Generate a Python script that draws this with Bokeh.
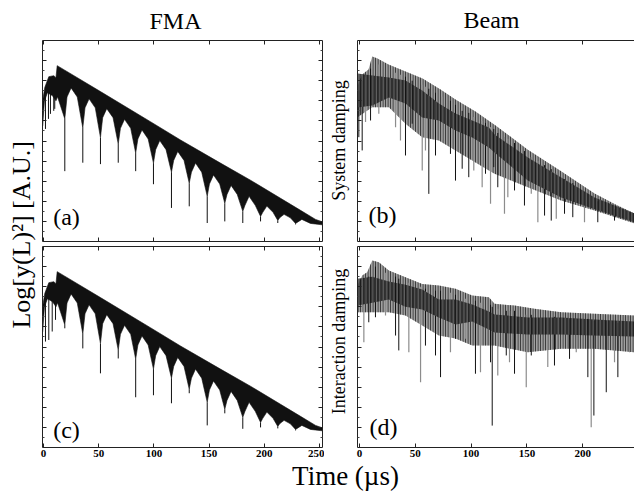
import math
from bokeh.plotting import figure
from bokeh.models import Range1d, Label, FixedTicker, LinearAxis, GridBox
from bokeh.embed import file_html
from bokeh.resources import INLINE

# ---------------- data ----------------
# FMA panels: upper envelope of the envelope-band (log units, A.U.)
fma_top_t = [-0.8, 1.2, 4.8, 9.3, 11.3, 12.4, 51.6, 96.9, 124.1, 160.3, 187.5, 214.7, 232.8, 246.4, 252.5]
fma_top_y = [7.0, 7.67, 8.2, 8.25, 8.15, 8.75, 7.46, 5.96, 5.05, 3.9, 3.05, 2.15, 1.55, 1.1, 0.98]
# lower (scalloped) boundary of the band
fma_low_t = [-0.8, 0.9, 3.6, 8.2, 11.3, 12.7, 15.4,
             19.3, 21.3, 25.0, 30.6, 35.6, 37.6, 41.3, 46.9,
             51.6, 53.6, 57.3, 63.0, 67.7, 69.7, 73.4, 79.0,
             83.5, 85.5, 89.2, 94.8, 99.6, 101.6, 105.3, 111.0,
             115.9, 117.9, 121.6, 127.3, 132.0, 134.0, 137.7, 143.3,
             148.3, 150.3, 154.0, 159.6, 164.2, 166.2, 169.9, 175.5,
             180.5, 182.5, 186.2, 191.8, 196.6, 198.6, 202.3, 207.9,
             212.2, 214.2, 217.9, 223.6, 228.3, 234.0, 241.8, 252.5]
fma_low_y = [5.75, 7.0, 7.4, 7.25, 7.0, 7.2, 6.75,
             6.1, 7.19, 7.64, 7.19, 5.65, 6.65, 7.1, 6.65,
             5.17, 6.16, 6.61, 6.16, 4.85, 5.63, 6.08, 5.63,
             4.4, 5.1, 5.55, 5.1, 3.9, 4.57, 5.02, 4.57,
             3.45, 4.03, 4.48, 4.03, 2.9, 3.45, 3.9, 3.45,
             2.25, 2.86, 3.31, 2.86, 1.9, 2.34, 2.79, 2.34,
             1.5, 1.8, 2.25, 1.8, 1.25, 1.45, 1.76, 1.45,
             1.05, 1.2, 1.35, 1.18, 0.9, 1.1, 0.9, 0.83]
# dips (thin spikes) of panel (a) and (c)
fma_a_spk_t = [1.8, 4.5, 6.3, 9.3, 10.2, 19.3, 35.6, 51.6, 67.7, 83.5, 99.6, 115.9, 132.0, 148.3, 164.2, 180.5, 196.6, 212.2, 228.3]
fma_a_spk_lo = [5.6, 6.1, 6.35, 6.5, 6.6, 3.5, 3.92, 3.85, 3.92, 3.5, 2.85, 1.67, 1.75, 0.92, 1.0, 0.92, 1.0, 0.92, 0.85]
fma_a_spk_hi = [7.4, 7.8, 8.0, 8.0, 8.0, 6.1, 5.65, 5.17, 4.85, 4.4, 3.9, 3.45, 2.9, 2.25, 1.9, 1.5, 1.25, 1.05, 0.9]
fma_c_spk_t = [1.8, 4.8, 7.9, 10.9, 19.3, 35.6, 51.6, 67.7, 83.5, 99.6, 115.9, 132.0, 148.3, 164.2, 180.5, 196.6, 212.2, 228.3]
fma_c_spk_lo = [5.27, 5.35, 5.77, 6.35, 5.93, 4.93, 3.69, 4.43, 2.5, 2.6, 2.2, 2.7, 1.1, 1.7, 0.93, 1.0, 0.95, 0.85]
fma_c_spk_hi = [7.4, 7.9, 8.0, 8.0, 6.1, 5.65, 5.17, 4.85, 4.4, 3.9, 3.45, 2.9, 2.25, 1.9, 1.5, 1.25, 1.05, 0.9]

# Beam, system damping (b)
b_up_t = [-1.8, 2.4, 8.1, 11.4, 16.1, 26.0, 41.2, 56.5, 72.6, 86.0, 103.9, 121.9, 150.5, 181.0, 210.6, 229.4, 246.4]
b_up_y = [7.71, 8.31, 8.56, 9.2, 9.1, 8.81, 8.46, 8.11, 7.56, 7.06, 6.47, 5.77, 4.58, 3.48, 2.39, 1.84, 1.39]
b_lo_t = [-1.8, 11.4, 26.3, 41.2, 56.2, 71.1, 86.0, 101.0, 115.9, 121.0, 150.8, 180.7, 210.6, 246.4]
b_lo_y = [6.18, 6.68, 6.68, 5.86, 5.19, 5.02, 4.53, 4.03, 3.53, 3.37, 2.70, 2.04, 1.54, 0.9]
b_core_hi = [8.36, 8.26, 8.16, 8.01, 7.51, 6.87, 6.37, 6.02, 5.67, 5.32, 4.18, 3.18, 2.19, 1.39]
b_core_lo = [6.67, 6.77, 7.16, 6.87, 6.17, 6.02, 5.52, 5.17, 4.68, 4.43, 3.03, 2.19, 1.6, 0.95]
b_k_t = [-0.6, 2.4, 9.9, 41.2, 47.2, 62.1, 68.1, 81.5, 86.0, 92.0, 97.9, 112.9, 120.3, 123.9, 138.9, 147.8, 165.8, 171.8, 183.7, 191.1, 213.5, 228.5]
b_k_lo = [5.19, 4.53, 6.02, 4.28, 5.86, 2.37, 4.28, 4.36, 3.03, 3.62, 3.2, 3.37, 3.7, 2.7, 2.54, 1.79, 1.29, 1.04, 1.38, 1.21, 0.96, 1.04]
b_k_hi = [7.5, 8.0, 8.6, 8.2, 8.0, 7.6, 7.4, 7.0, 6.8, 6.5, 6.4, 5.9, 5.6, 5.4, 4.9, 4.5, 3.8, 3.6, 3.1, 2.9, 2.0, 1.6]
b_g_t = [5.4, 17.3, 32.3, 36.7, 56.2, 59.1, 74.1, 102.4, 109.9, 117.4, 129.9, 132.9, 153.9, 159.8, 176.3, 201.6, 240.4]
b_g_lo = [5.94, 6.35, 5.69, 5.02, 3.53, 4.53, 5.02, 3.53, 2.7, 1.88, 1.38, 2.2, 2.37, 0.96, 1.13, 0.96, 1.04]
b_g_hi = [8.2, 8.8, 8.4, 8.3, 7.8, 7.7, 7.2, 6.2, 6.0, 5.7, 5.2, 5.1, 4.2, 4.0, 3.4, 2.5, 1.3]

# Beam, interaction damping (d)
d_up_t = [-1.8, 2.4, 6.9, 11.4, 17.3, 26.3, 41.2, 56.2, 71.1, 86.0, 101.0, 115.9, 121.0, 138.9, 156.8, 180.7, 210.6, 246.4]
d_up_y = [8.06, 8.56, 8.72, 9.3, 9.22, 8.81, 8.47, 8.14, 8.06, 7.9, 7.56, 7.48, 7.15, 7.06, 6.9, 6.73, 6.65, 6.57]
d_lo_t = [-1.8, 11.4, 26.3, 41.2, 56.2, 71.1, 86.0, 101.0, 115.9, 121.0, 150.8, 180.7, 210.6, 246.4]
d_lo_y = [6.73, 6.73, 6.73, 6.57, 6.07, 5.57, 5.42, 5.07, 5.07, 5.07, 4.74, 4.91, 4.91, 4.74]
d_core_hi = [8.4, 8.5, 8.26, 8.1, 7.86, 7.36, 7.36, 7.11, 6.77, 6.62, 6.47, 6.47, 6.37, 6.27]
d_core_lo = [7.06, 7.2, 7.36, 7.0, 6.87, 6.47, 6.12, 6.27, 5.87, 5.72, 5.62, 5.62, 5.57, 5.52]
d_k_t = [8.3, 14.3, 32.3, 35.2, 59.1, 68.1, 72.6, 86.0, 103.9, 117.4, 118.9, 131.5, 138.9, 153.9, 174.7, 188.2, 204.6, 210.0, 221.1, 231.5]
d_k_lo = [6.23, 6.48, 5.57, 4.83, 5.07, 4.58, 3.5, 5.41, 3.67, 4.24, 1.09, 4.58, 3.67, 4.58, 4.08, 4.41, 3.5, 1.59, 2.75, 3.5]
d_k_hi = [8.5, 9.0, 8.5, 8.4, 7.9, 7.8, 7.8, 7.6, 7.3, 7.1, 7.0, 6.8, 6.8, 6.6, 6.5, 6.4, 6.4, 6.3, 6.3, 6.2]
d_g_t = [3.9, 23.3, 44.2, 54.7, 81.5, 95.0, 108.4, 123.9, 134.4, 149.4, 168.7, 194.2, 207.6, 228.5, 242.0]
d_g_lo = [5.24, 6.57, 4.74, 3.25, 4.74, 5.41, 3.75, 3.58, 4.24, 3.0, 4.0, 4.74, 1.01, 4.24, 4.74]
d_g_hi = [8.3, 8.7, 8.2, 8.0, 7.7, 7.4, 7.2, 6.9, 6.8, 6.6, 6.5, 6.4, 6.3, 6.2, 6.2]

x_tick_values = [0, 50, 100, 150, 200, 250]
y_tick_values = [1, 2, 3, 4, 5, 6, 7, 8, 9]
y_minor_values = [0.5, 1.5, 2.5, 3.5, 4.5, 5.5, 6.5, 7.5, 8.5, 9.5]

# ---------------- layout ----------------
SERIF = "Liberation Serif"
INK = "#111111"
GRAY = "#8c8c8c"

def make_panel(xr, w, h, bl, br, bt, bb, sides, labelled):
    p = figure(width=w, height=h, x_range=Range1d(*xr), y_range=Range1d(0, 10),
               output_backend="svg", toolbar_location=None, title=None,
               x_axis_location=None, y_axis_location=None,
               min_border_left=bl, min_border_right=br,
               min_border_top=bt, min_border_bottom=bb)
    p.outline_line_color = None
    p.xgrid.grid_line_color = None
    p.ygrid.grid_line_color = None
    p.background_fill_color = "white"
    for side in sides:
        if side in ("left", "right"):
            ax = LinearAxis(ticker=FixedTicker(ticks=y_tick_values, minor_ticks=y_minor_values))
        else:
            ax = LinearAxis(ticker=FixedTicker(ticks=x_tick_values))
        ax.axis_line_color = "#222222"
        ax.axis_line_width = 1
        ax.major_tick_in = 4
        ax.major_tick_out = 0
        ax.minor_tick_in = 2
        ax.minor_tick_out = 0
        ax.major_tick_line_color = "#222222"
        ax.minor_tick_line_color = "#444444"
        ax.major_label_standoff = 0
        if side == "below" and labelled:
            ax.major_label_standoff = 2
            ax.major_label_text_font = SERIF
            ax.major_label_text_font_style = "bold"
            ax.major_label_text_font_size = "11px"
            ax.major_label_text_color = "black"
        else:
            ax.major_label_text_font_size = "0px"
            ax.major_label_text_color = None
        p.add_layout(ax, side)
    return p

def canvas(w, h):
    c = figure(width=w, height=h, x_range=Range1d(0, w), y_range=Range1d(h, 0),
               output_backend="svg", toolbar_location=None, title=None,
               x_axis_location=None, y_axis_location=None, min_border=0)
    c.outline_line_color = None
    c.xgrid.grid_line_color = None
    c.ygrid.grid_line_color = None
    return c

def text(fig, x, y, s, size, angle=0.0, align="center"):
    fig.add_layout(Label(x=x, y=y, text=s, text_font=SERIF, text_font_size=f"{size}px",
                         text_color="black", text_align=align, text_baseline="middle", angle=angle))

def draw_fma(p, spk_t, spk_lo, spk_hi):
    p.segment(x0=spk_t, y0=spk_lo, x1=spk_t, y1=spk_hi, line_color=INK, line_width=1)
    p.patch(x=fma_top_t + fma_low_t[::-1], y=fma_top_y + fma_low_y[::-1],
            fill_color=INK, line_color=INK, line_width=0.6)

def draw_beam(p, up_t, up_y, lo_t, lo_y, core_hi, core_lo, k_t, k_lo, k_hi, g_t, g_lo, g_hi):
    p.patch(x=up_t + lo_t[::-1], y=up_y + lo_y[::-1],
            fill_color="#a0a0a0", line_color=None,
            hatch_pattern="vertical_line", hatch_color="#262626", hatch_scale=2.5, hatch_weight=1)
    p.segment(x0=g_t, y0=g_lo, x1=g_t, y1=g_hi, line_color=GRAY, line_width=1.2)
    p.segment(x0=k_t, y0=k_lo, x1=k_t, y1=k_hi, line_color=INK, line_width=1)
    p.varea(x=lo_t, y1=core_lo, y2=core_hi, fill_color="#141414", fill_alpha=0.8,
            hatch_pattern="vertical_line", hatch_color="#c8c8c8", hatch_scale=3.5, hatch_weight=1, hatch_alpha=0.45)

LEFT_X = (-0.9, 252.7)
RIGHT_X = (-1.8, 246.4)

pa = make_panel(LEFT_X, 284, 205, 2, 2, 1, 3, ["left", "right", "above", "below"], False)
pc = make_panel(LEFT_X, 284, 216, 2, 2, 2, 13, ["left", "right", "above", "below"], True)
pb = make_panel(RIGHT_X, 278, 205, 1, 0, 1, 3, ["left", "above", "below"], False)
pd = make_panel(RIGHT_X, 278, 216, 1, 0, 2, 13, ["left", "above", "below"], True)

draw_fma(pa, fma_a_spk_t, fma_a_spk_lo, fma_a_spk_hi)
draw_fma(pc, fma_c_spk_t, fma_c_spk_lo, fma_c_spk_hi)
draw_beam(pb, b_up_t, b_up_y, b_lo_t, b_lo_y, b_core_hi, b_core_lo, b_k_t, b_k_lo, b_k_hi, b_g_t, b_g_lo, b_g_hi)
draw_beam(pd, d_up_t, d_up_y, d_lo_t, d_lo_y, d_core_hi, d_core_lo, d_k_t, d_k_lo, d_k_hi, d_g_t, d_g_lo, d_g_hi)

text(pa, 20.8, 1.24, "(a)", 24)
text(pc, 20.8, 0.85, "(c)", 24)
text(pb, 20.6, 1.34, "(b)", 24)
text(pd, 21.5, 1.04, "(d)", 24)

title_c = canvas(634, 39)
text(title_c, 175, 20.5, "FMA", 24)
text(title_c, 491, 19, "Beam", 24)

ylab_c = canvas(40, 421)
text(ylab_c, 21, 201, "Log[y(L)\u00b2] [A.U.]", 26, angle=math.pi / 2)

side_b = canvas(32, 205)
text(side_b, 14, 102, "System damping", 18, angle=math.pi / 2)
side_d = canvas(32, 216)
text(side_d, 14, 102, "Interaction damping", 18, angle=math.pi / 2)

time_c = canvas(634, 32)
text(time_c, 345, 15, "Time (\u00b5s)", 27)

grid = GridBox(children=[
    (title_c, 0, 0, 1, 4),
    (ylab_c, 1, 0, 2, 1),
    (pa, 1, 1), (side_b, 1, 2), (pb, 1, 3),
    (pc, 2, 1), (side_d, 2, 2), (pd, 2, 3),
    (time_c, 3, 0, 1, 4),
], spacing=0)

open("out.html", "w").write(file_html(grid, INLINE))
